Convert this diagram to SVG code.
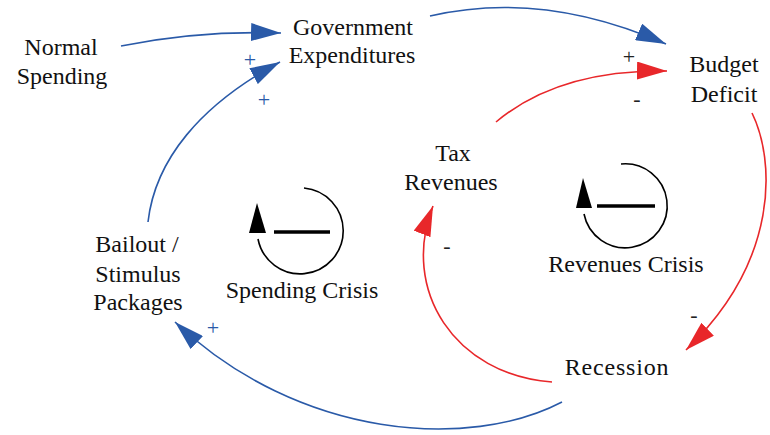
<svg xmlns="http://www.w3.org/2000/svg" width="770" height="435" viewBox="0 0 770 435">
<style>
  text { font-family: "Liberation Serif", "Times New Roman", serif; fill: #111; }
  .node { font-size: 24px; text-anchor: middle; }
  .pol { font-size: 22px; text-anchor: middle; }
  .blue { fill: #2a5aa8; }
  .dark { fill: #222; }
  .lb { fill: none; stroke: #2a5aa8; stroke-width: 1.6; }
  .lr { fill: none; stroke: #e8272a; stroke-width: 1.6; }
  .loop { fill: none; stroke: #000; stroke-width: 1.6; }
  .bar { stroke: #000; stroke-width: 3.5; }
</style>
<defs>
  <marker id="ab" viewBox="0 0 30 18" refX="30" refY="9" markerWidth="30" markerHeight="18" markerUnits="userSpaceOnUse" orient="auto">
    <path d="M0,0 L30,9 L0,18 z" fill="#2a5aa8"/>
  </marker>
  <marker id="ar" viewBox="0 0 30 18" refX="30" refY="9" markerWidth="30" markerHeight="18" markerUnits="userSpaceOnUse" orient="auto">
    <path d="M0,0 L30,9 L0,18 z" fill="#e8272a"/>
  </marker>
</defs>

<g id="connectors">
  <path class="lb" d="M121,46 C170,36 220,31 281,33" marker-end="url(#ab)"/>
  <path class="lb" d="M148,222 C155,160 200,105 280,62" marker-end="url(#ab)"/>
  <path class="lb" d="M430,16 C520,-5 600,15 666,44" marker-end="url(#ab)"/>
  <path class="lr" d="M496,122 C540,85 600,70 667,71" marker-end="url(#ar)"/>
  <path class="lr" d="M752,113 C775,160 780,260 686,350" marker-end="url(#ar)"/>
  <path class="lr" d="M552,382 C455,375 400,290 433,206" marker-end="url(#ar)"/>
  <path class="lb" d="M562,402 C470,450 300,440 175,322" marker-end="url(#ab)"/>
</g>

<g id="polarities">
  <text class="pol blue" x="250" y="67">+</text>
  <text class="pol blue" x="264" y="107">+</text>
  <text class="pol dark" x="629" y="64">+</text>
  <text class="pol dark" x="637" y="106">-</text>
  <text class="pol dark" x="447" y="253">-</text>
  <text class="pol dark" x="694" y="322">-</text>
  <text class="pol blue" x="213" y="335">+</text>
</g>

<g id="normal-spending">
  <text class="node" x="61" y="55">Normal</text>
  <text class="node" x="62" y="84">Spending</text>
</g>
<g id="government-expenditures">
  <text class="node" x="353" y="35">Government</text>
  <text class="node" x="352" y="63">Expenditures</text>
</g>
<g id="budget-deficit">
  <text class="node" x="724" y="72">Budget</text>
  <text class="node" x="724" y="102">Deficit</text>
</g>
<g id="tax-revenues">
  <text class="node" x="453" y="161">Tax</text>
  <text class="node" x="451" y="190">Revenues</text>
</g>
<g id="bailout">
  <text class="node" x="137" y="252">Bailout /</text>
  <text class="node" x="138" y="282">Stimulus</text>
  <text class="node" x="138" y="310">Packages</text>
</g>
<g id="recession">
  <text class="node" x="617" y="375" letter-spacing="0.8">Recession</text>
</g>

<g id="spending-crisis">
  <path class="loop" d="M304,188 A43,43 0 1,1 258,239"/>
  <polygon points="257,203 249,233 266,233" fill="#000"/>
  <line class="bar" x1="274" y1="232" x2="330" y2="232"/>
  <text class="node" x="302" y="298">Spending Crisis</text>
</g>
<g id="revenues-crisis">
  <path class="loop" d="M621,164 A42,42 0 1,1 584,214"/>
  <polygon points="583,178 576,208 592,208" fill="#000"/>
  <line class="bar" x1="597" y1="206" x2="655" y2="206"/>
  <text class="node" x="626" y="272">Revenues Crisis</text>
</g>
</svg>
